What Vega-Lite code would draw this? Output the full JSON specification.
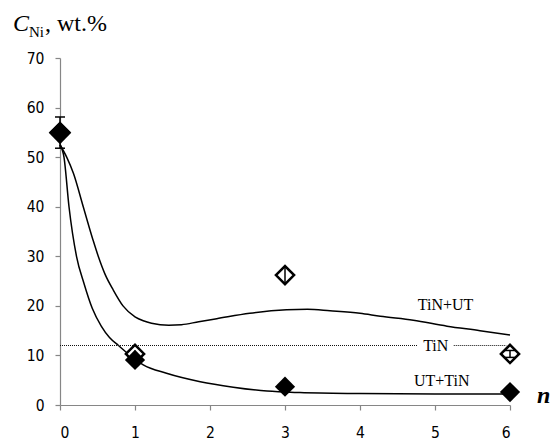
{
  "$schema": "https://vega.github.io/schema/vega-lite/v6.json",
  "width": 450,
  "height": 347,
  "autosize": {"type": "none"},
  "padding": {"left": 60, "top": 58, "right": 42, "bottom": 38},
  "background": "white",
  "config": {
    "view": {"stroke": null},
    "axis": {
      "grid": false,
      "domainColor": "#868686",
      "tickColor": "#868686",
      "domainWidth": 1.2,
      "tickWidth": 1.2,
      "tickSize": 5,
      "labelFont": "DejaVu Sans Condensed, DejaVu Sans",
      "labelFontSize": 15.5,
      "labelColor": "#000000"
    }
  },
  "datasets": {
    "curves": [
      {"series": "TiN+UT", "x": 0, "y": 52.5},
      {"series": "TiN+UT", "x": 0.089, "y": 50},
      {"series": "TiN+UT", "x": 0.18, "y": 46.7},
      {"series": "TiN+UT", "x": 0.31, "y": 40},
      {"series": "TiN+UT", "x": 0.44, "y": 33.3},
      {"series": "TiN+UT", "x": 0.51, "y": 30},
      {"series": "TiN+UT", "x": 0.6, "y": 26.4},
      {"series": "TiN+UT", "x": 0.71, "y": 23.2},
      {"series": "TiN+UT", "x": 0.84, "y": 20},
      {"series": "TiN+UT", "x": 1.0, "y": 17.8},
      {"series": "TiN+UT", "x": 1.11, "y": 17.0},
      {"series": "TiN+UT", "x": 1.22, "y": 16.5},
      {"series": "TiN+UT", "x": 1.45, "y": 16.1},
      {"series": "TiN+UT", "x": 1.62, "y": 16.2},
      {"series": "TiN+UT", "x": 1.85, "y": 16.8},
      {"series": "TiN+UT", "x": 2.09, "y": 17.4},
      {"series": "TiN+UT", "x": 2.53, "y": 18.5},
      {"series": "TiN+UT", "x": 3.02, "y": 19.2},
      {"series": "TiN+UT", "x": 3.3, "y": 19.3},
      {"series": "TiN+UT", "x": 3.6, "y": 19.0},
      {"series": "TiN+UT", "x": 4.0, "y": 18.5},
      {"series": "TiN+UT", "x": 4.27, "y": 17.9},
      {"series": "TiN+UT", "x": 4.71, "y": 17.1},
      {"series": "TiN+UT", "x": 5.16, "y": 15.9},
      {"series": "TiN+UT", "x": 5.6, "y": 15.0},
      {"series": "TiN+UT", "x": 6.0, "y": 14.1},
      {"series": "UT+TiN", "x": 0, "y": 52.5},
      {"series": "UT+TiN", "x": 0.053, "y": 50},
      {"series": "UT+TiN", "x": 0.12, "y": 40},
      {"series": "UT+TiN", "x": 0.22, "y": 30},
      {"series": "UT+TiN", "x": 0.32, "y": 24.5},
      {"series": "UT+TiN", "x": 0.43, "y": 19.5},
      {"series": "UT+TiN", "x": 0.55, "y": 15.9},
      {"series": "UT+TiN", "x": 0.66, "y": 13.6},
      {"series": "UT+TiN", "x": 0.78, "y": 12},
      {"series": "UT+TiN", "x": 1.0, "y": 9.2},
      {"series": "UT+TiN", "x": 1.11, "y": 8.1},
      {"series": "UT+TiN", "x": 1.42, "y": 6.4},
      {"series": "UT+TiN", "x": 1.87, "y": 4.7},
      {"series": "UT+TiN", "x": 2.31, "y": 3.6},
      {"series": "UT+TiN", "x": 2.76, "y": 2.8},
      {"series": "UT+TiN", "x": 3.2, "y": 2.5},
      {"series": "UT+TiN", "x": 4.0, "y": 2.3},
      {"series": "UT+TiN", "x": 5.0, "y": 2.2},
      {"series": "UT+TiN", "x": 6.0, "y": 2.2}
    ],
    "tinLine": [
      {"x": 0, "x2": 4.77, "y": 12},
      {"x": 5.25, "x2": 5.95, "y": 12}
    ],
    "open": [
      {"x": 0, "y": 55},
      {"x": 1, "y": 10.3},
      {"x": 3, "y": 26.2},
      {"x": 6, "y": 10.3}
    ],
    "errors": [
      {"x": 0, "lo": 51.8, "hi": 58.1},
      {"x": 1, "lo": 9.6, "hi": 11.0},
      {"x": 3, "lo": 24.4, "hi": 28.0},
      {"x": 6, "lo": 9.6, "hi": 11.0}
    ],
    "caps": [
      {"x": 0, "y": 51.8},
      {"x": 0, "y": 58.1},
      {"x": 6, "y": 9.6},
      {"x": 6, "y": 11.0}
    ],
    "filledBig": [
      {"x": 0, "y": 54.9}
    ],
    "filled": [
      {"x": 1, "y": 9.1},
      {"x": 3, "y": 3.7},
      {"x": 6, "y": 2.6}
    ],
    "labels": [
      {"x": 5.14, "y": 19.2, "label": "TiN+UT"},
      {"x": 5.01, "y": 10.9, "label": "TiN"},
      {"x": 5.09, "y": 3.9, "label": "UT+TiN"}
    ]
  },
  "layer": [
    {
      "data": {"name": "curves"},
      "mark": {"type": "line", "interpolate": "monotone", "color": "#000000", "strokeWidth": 1.5},
      "encoding": {
        "x": {"field": "x", "type": "quantitative", "title": null, "scale": {"domain": [0, 6], "nice": false},
              "axis": {"values": [0, 1, 2, 3, 4, 5, 6], "format": "d", "labelPadding": 15}},
        "y": {"field": "y", "type": "quantitative", "title": null, "scale": {"domain": [0, 70], "nice": false},
              "axis": {"values": [0, 10, 20, 30, 40, 50, 60, 70], "labelPadding": 11}},
        "detail": {"field": "series"}
      }
    },
    {
      "data": {"name": "tinLine"},
      "mark": {"type": "rule", "color": "#111111", "strokeWidth": 1, "strokeDash": [1, 1]},
      "encoding": {
        "x": {"field": "x", "type": "quantitative", "title": null},
        "x2": {"field": "x2"},
        "y": {"field": "y", "type": "quantitative", "title": null}
      }
    },
    {
      "data": {"name": "open"},
      "mark": {"type": "point", "shape": "diamond", "filled": true, "fill": "#ffffff", "stroke": "#000000", "strokeWidth": 2.5, "size": 330, "opacity": 1},
      "encoding": {
        "x": {"field": "x", "type": "quantitative", "title": null},
        "y": {"field": "y", "type": "quantitative", "title": null}
      }
    },
    {
      "data": {"name": "errors"},
      "mark": {"type": "rule", "color": "#000000", "strokeWidth": 1.5},
      "encoding": {
        "x": {"field": "x", "type": "quantitative", "title": null},
        "y": {"field": "lo", "type": "quantitative", "title": null},
        "y2": {"field": "hi"}
      }
    },
    {
      "data": {"name": "caps"},
      "mark": {"type": "tick", "orient": "horizontal", "color": "#000000", "size": 10, "thickness": 1.5, "opacity": 1},
      "encoding": {
        "x": {"field": "x", "type": "quantitative", "title": null},
        "y": {"field": "y", "type": "quantitative", "title": null}
      }
    },
    {
      "data": {"name": "filledBig"},
      "mark": {"type": "point", "shape": "diamond", "filled": true, "color": "#000000", "size": 510, "opacity": 1},
      "encoding": {
        "x": {"field": "x", "type": "quantitative", "title": null},
        "y": {"field": "y", "type": "quantitative", "title": null}
      }
    },
    {
      "data": {"name": "filled"},
      "mark": {"type": "point", "shape": "diamond", "filled": true, "color": "#000000", "size": 410, "opacity": 1},
      "encoding": {
        "x": {"field": "x", "type": "quantitative", "title": null},
        "y": {"field": "y", "type": "quantitative", "title": null}
      }
    },
    {
      "data": {"name": "labels"},
      "mark": {"type": "text", "font": "Liberation Serif", "fontSize": 16, "color": "#000000", "align": "center", "baseline": "alphabetic"},
      "encoding": {
        "x": {"field": "x", "type": "quantitative", "title": null},
        "y": {"field": "y", "type": "quantitative", "title": null},
        "text": {"field": "label"}
      }
    },
    {
      "data": {"values": [{"x": -0.627, "y": 75.35, "t": "C"}]},
      "mark": {"type": "text", "font": "Liberation Serif", "fontSize": 24, "fontStyle": "italic", "color": "#000000", "align": "left", "baseline": "alphabetic"},
      "encoding": {
        "x": {"field": "x", "type": "quantitative", "title": null},
        "y": {"field": "y", "type": "quantitative", "title": null},
        "text": {"field": "t"}
      }
    },
    {
      "data": {"values": [{"x": -0.413, "y": 74.3, "t": "Ni"}]},
      "mark": {"type": "text", "font": "Liberation Serif", "fontSize": 15, "color": "#000000", "align": "left", "baseline": "alphabetic"},
      "encoding": {
        "x": {"field": "x", "type": "quantitative", "title": null},
        "y": {"field": "y", "type": "quantitative", "title": null},
        "text": {"field": "t"}
      }
    },
    {
      "data": {"values": [{"x": -0.2, "y": 75.35, "t": ", wt.%"}]},
      "mark": {"type": "text", "font": "Liberation Serif", "fontSize": 24, "color": "#000000", "align": "left", "baseline": "alphabetic"},
      "encoding": {
        "x": {"field": "x", "type": "quantitative", "title": null},
        "y": {"field": "y", "type": "quantitative", "title": null},
        "text": {"field": "t"}
      }
    },
    {
      "data": {"values": [{"x": 6.36, "y": 0.4, "t": "n"}]},
      "mark": {"type": "text", "font": "Liberation Serif", "fontSize": 24, "fontStyle": "italic", "fontWeight": "bold", "color": "#000000", "align": "left", "baseline": "alphabetic"},
      "encoding": {
        "x": {"field": "x", "type": "quantitative", "title": null},
        "y": {"field": "y", "type": "quantitative", "title": null},
        "text": {"field": "t"}
      }
    }
  ]
}
